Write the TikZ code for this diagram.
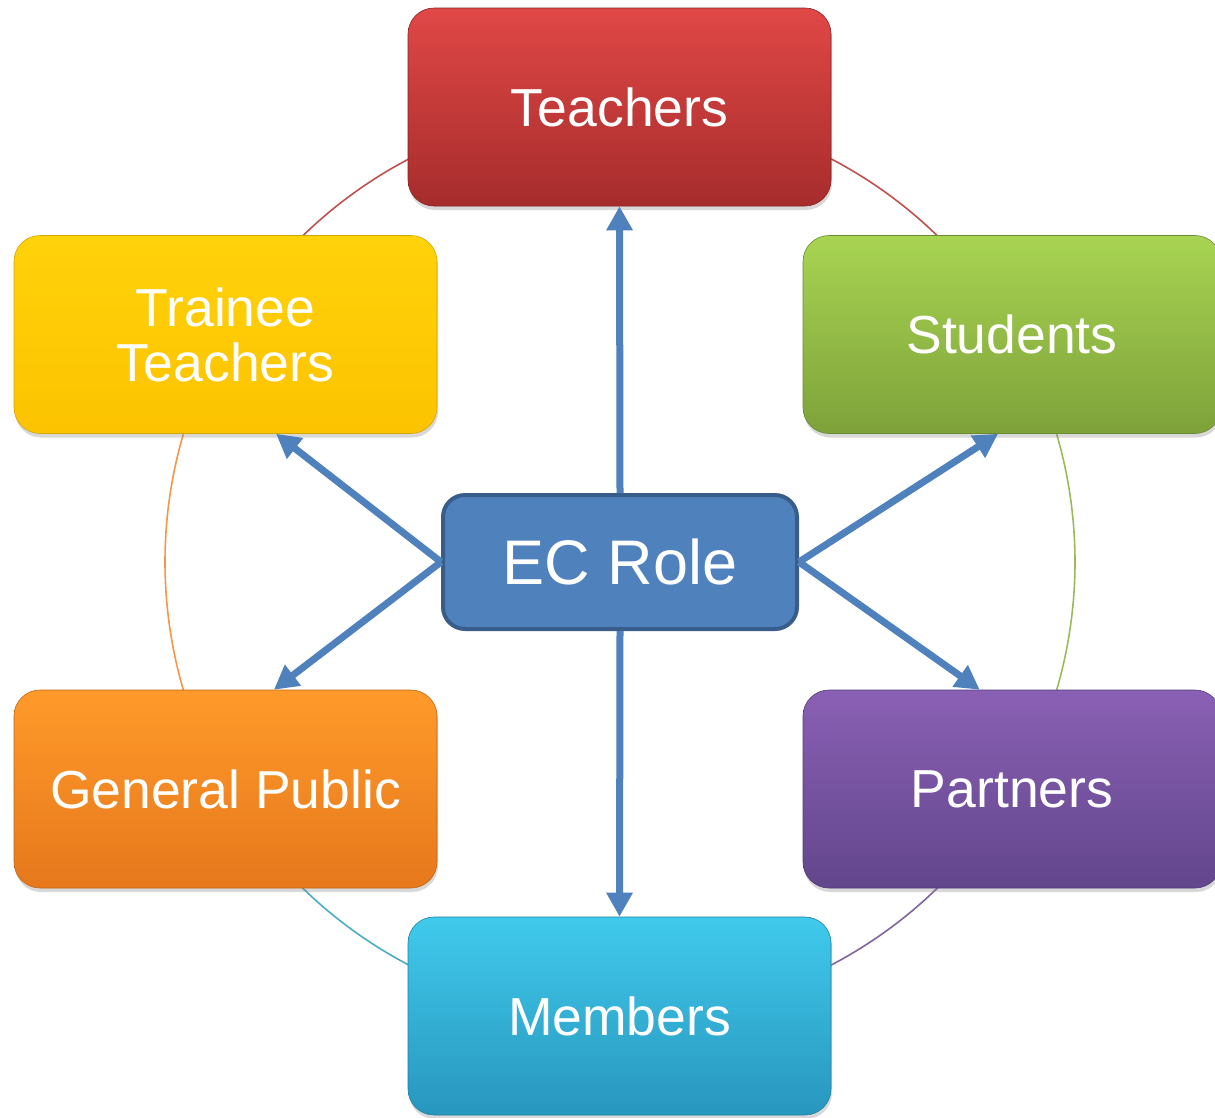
\documentclass[tikz,border=0pt]{standalone}
\usepackage{fontspec}
\setmainfont{Liberation Sans}
\usetikzlibrary{arrows.meta,shadows}
\definecolor{redT}{RGB}{224,72,70}
\definecolor{redB}{RGB}{166,44,44}
\definecolor{yelT}{RGB}{255,210,10}
\definecolor{yelB}{RGB}{252,195,0}
\definecolor{grnT}{RGB}{168,212,82}
\definecolor{grnB}{RGB}{126,162,58}
\definecolor{orgT}{RGB}{255,154,42}
\definecolor{orgB}{RGB}{230,120,28}
\definecolor{purT}{RGB}{138,96,180}
\definecolor{purB}{RGB}{98,70,140}
\definecolor{cyaT}{RGB}{64,202,236}
\definecolor{cyaB}{RGB}{40,150,190}
\definecolor{ecfill}{RGB}{79,129,189}
\definecolor{ecdraw}{RGB}{56,93,138}
\definecolor{arcR}{RGB}{192,80,77}
\definecolor{arcG}{RGB}{155,187,89}
\definecolor{arcP}{RGB}{128,100,162}
\definecolor{arcC}{RGB}{75,172,198}
\definecolor{arcO}{RGB}{247,150,70}
\tikzset{
  outer/.style={rectangle, rounded corners=26pt, minimum width=423pt, minimum height=198pt,
    inner sep=0pt, text=white, align=center, font=\fontsize{53.5}{55}\selectfont,
    drop shadow={opacity=0.3, shadow xshift=1pt, shadow yshift=-4pt}},
  center/.style={rectangle, rounded corners=22pt, minimum width=354pt, minimum height=134pt,
    inner sep=0pt, text=white, fill=ecfill, draw=ecdraw, line width=4pt,
    font=\fontsize{63}{66}\selectfont},
  link/.style={draw=ecfill, line width=7pt, -{Triangle[length=24pt,width=25pt]}},
  ring/.style={line width=1.6pt}
}
\begin{document}
\begin{tikzpicture}[x=1pt,y=1pt]
\useasboundingbox (0,0) rectangle (1215,-1117);
\fill[white] (0,0) rectangle (1215,-1117);
% ring
\coordinate (c) at (620,-562);
\draw[ring, arcR] (c) ++(30:455) arc[start angle=30, end angle=150, radius=455];
\draw[ring, arcO] (c) ++(150:455) arc[start angle=150, end angle=210, radius=455];
\draw[ring, arcC] (c) ++(210:455) arc[start angle=210, end angle=270, radius=455];
\draw[ring, arcP] (c) ++(270:455) arc[start angle=270, end angle=330, radius=455];
\draw[ring, arcG] (c) ++(330:455) arc[start angle=330, end angle=390, radius=455];
% boxes
\node[outer, top color=redT, bottom color=redB, draw=redB!80!black, line width=0.6pt] (tea) at (619.5,-107) {Teachers};
\node[outer, top color=yelT, bottom color=yelB, draw=yelB!85!black, line width=0.6pt] (tra) at (225.5,-334.5) {Trainee\\Teachers};
\node[outer, minimum width=418pt, top color=grnT, bottom color=grnB, draw=grnB!85!black, line width=0.6pt] (stu) at (1012,-334.5) {Students};
\node[outer, top color=orgT, bottom color=orgB, draw=orgB!85!black, line width=0.6pt] (gen) at (225.5,-789) {General Public};
\node[outer, minimum width=418pt, top color=purT, bottom color=purB, draw=purB!85!black, line width=0.6pt] (par) at (1012,-789) {Partners};
\node[outer, top color=cyaT, bottom color=cyaB, draw=cyaB!85!black, line width=0.6pt] (mem) at (619.5,-1016) {Members};
\node[center] (ec) at (620,-562) {EC Role};
% arrows
\draw[link] (ec.north) -- (tea.south);
\draw[link] (ec.south) -- (mem.north);
\draw[link] (ec.west) -- (tra.-63);
\draw[link] (ec.west) -- (gen.64);
\draw[link] (ec.east) -- (stu.-98);
\draw[link] (ec.east) -- (par.108);
\end{tikzpicture}
\end{document}
